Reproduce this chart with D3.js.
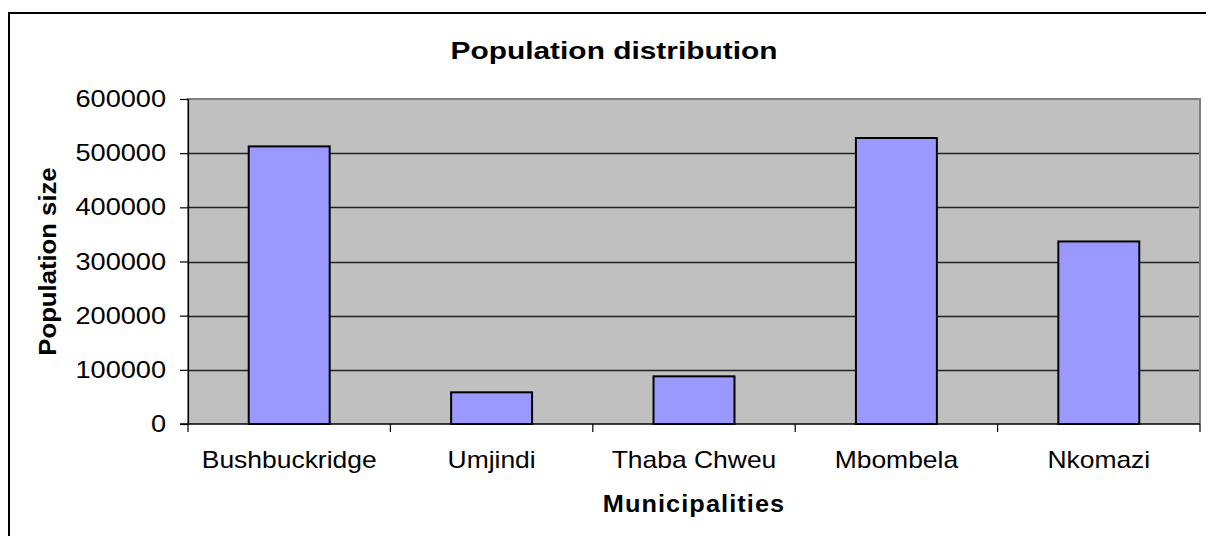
<!DOCTYPE html>
<html>
<head>
<meta charset="utf-8">
<script src="https://cdn.jsdelivr.net/npm/d3@7/dist/d3.min.js"></script>
<style>
  html, body { margin: 0; padding: 0; background: #fff; }
  svg { display: block; font-family: "Liberation Sans", Arial, sans-serif; }
</style>
</head>
<body>
<svg id="chart" width="1206" height="536"></svg>
<script>
// Population per municipality
const municipalities = ["Bushbuckridge", "Umjindi", "Thaba Chweu", "Mbombela", "Nkomazi"];
const population = [512500, 58500, 88000, 528000, 337000];
const yTicks = [0, 100000, 200000, 300000, 400000, 500000, 600000];

const svg = d3.select("#chart");
const plot = { left: 188, right: 1200, top: 99, bottom: 424 };

const x = d3.scaleBand().domain(municipalities).range([plot.left, plot.right]).padding(0);
const y = d3.scaleLinear().domain([0, 600000]).range([plot.bottom, plot.top]);

// Outer chart frame (runs past the right and bottom edges)
svg.append("rect")
  .attr("x", 9).attr("y", 13)
  .attr("width", 1220).attr("height", 540)
  .attr("fill", "none").attr("stroke", "#000").attr("stroke-width", 2);

// Plot background
svg.append("rect")
  .attr("x", plot.left).attr("y", plot.top)
  .attr("width", plot.right - plot.left).attr("height", plot.bottom - plot.top)
  .attr("fill", "#c0c0c0");

// Gridlines
svg.append("g").selectAll("line")
  .data(yTicks.filter(t => t > 0 && t < 600000))
  .join("line")
  .attr("x1", plot.left).attr("x2", plot.right)
  .attr("y1", d => Math.round(y(d)) + 0.5).attr("y2", d => Math.round(y(d)) + 0.5)
  .attr("stroke", "#222").attr("stroke-width", 1.3);

// Plot border (top / right / left in grey)
svg.append("path")
  .attr("d", `M${plot.left},${plot.bottom} V${plot.top} H${plot.right} V${plot.bottom}`)
  .attr("fill", "none").attr("stroke", "#808080").attr("stroke-width", 2);

// Bars
const barW = x.bandwidth() * 0.4;
svg.append("g").selectAll("rect")
  .data(municipalities)
  .join("rect")
  .attr("x", d => x(d) + (x.bandwidth() - barW) / 2)
  .attr("y", (d, i) => y(population[i]))
  .attr("width", barW)
  .attr("height", (d, i) => y(0) - y(population[i]))
  .attr("fill", "#9999ff")
  .attr("stroke", "#000").attr("stroke-width", 2);

// Text helper: places a label at (px, py) with a horizontal stretch
function label(parent, px, py, str, opts) {
  const o = Object.assign({ size: 23, weight: "normal", anchor: "middle", sx: 1, rotate: 0, spacing: 0 }, opts);
  return parent.append("text")
    .attr("transform", `translate(${px},${py}) rotate(${o.rotate}) scale(${o.sx},1)`)
    .attr("text-anchor", o.anchor)
    .attr("font-size", o.size)
    .attr("font-weight", o.weight)
    .attr("letter-spacing", o.spacing)
    .attr("fill", "#000")
    .text(str);
}

// Y axis
const yAxis = svg.append("g")
  .attr("transform", `translate(${plot.left},0)`)
  .call(d3.axisLeft(y).tickValues(yTicks).tickFormat("").tickSize(8));
yAxis.select(".domain").attr("stroke", "#000").attr("stroke-width", 1.2);
yAxis.selectAll(".tick line").attr("stroke", "#000").attr("stroke-width", 1.2);
const yLabels = svg.append("g");
yTicks.forEach(t => {
  label(yLabels, 166, y(t) + 8, d3.format("d")(t), { anchor: "end", sx: 1.18 });
});

// X axis: ticks at the category boundaries
const xAxisG = svg.append("g").attr("transform", `translate(0,${plot.bottom})`);
xAxisG.append("line")
  .attr("x1", plot.left - 8).attr("x2", plot.right)
  .attr("stroke", "#000").attr("stroke-width", 1.5);
const bounds = municipalities.map(d => x(d)).concat([plot.right]);
xAxisG.selectAll("line.tk")
  .data(bounds)
  .join("line").attr("class", "tk")
  .attr("x1", d => d).attr("x2", d => d)
  .attr("y1", 0).attr("y2", 8)
  .attr("stroke", "#000").attr("stroke-width", 1.2);
municipalities.forEach(m => {
  label(xAxisG, x(m) + x.bandwidth() / 2, 44, m, { sx: 1.15 });
});

// Titles
label(svg, 614, 59, "Population distribution", { weight: "bold", sx: 1.3 });
label(svg, 694, 512, "Municipalities", { weight: "bold", sx: 1.1, spacing: 1 });
label(svg, 56, (plot.top + plot.bottom) / 2, "Population size",
  { weight: "bold", size: 24, rotate: -90, sx: 1.07 });
</script>
</body>
</html>
